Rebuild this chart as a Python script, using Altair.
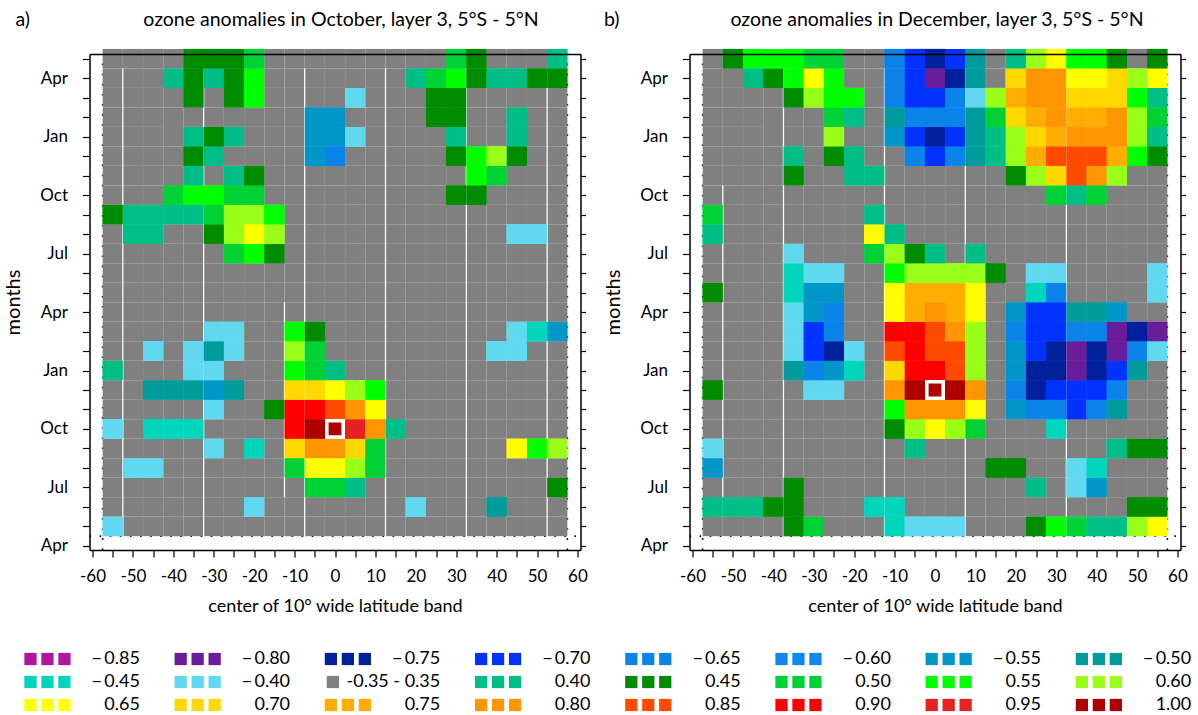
import altair as alt
import pandas as pd

FONT = "Lato"

# ---------------- data ----------------
LATS = [-55 + 5 * i for i in range(23)]          # centres of the latitude bands
# month index: 0 = April (year 0), 1 = May (year 0) ... 25 = May (year 2)
MONTH_NAMES = ["Apr", "Jul", "Oct", "Jan"]

LEVEL_KEYS = ["-0.85", "-0.80", "-0.75", "-0.70", "-0.65", "-0.60", "-0.55", "-0.50",
              "-0.45", "-0.40", "0.00", "0.40", "0.45", "0.50", "0.55", "0.60",
              "0.65", "0.70", "0.75", "0.80", "0.85", "0.90", "0.95", "1.00"]
LEVEL_COLORS = ["#B2169E", "#6A1C9A", "#00209C", "#0033FF", "#0A84E8", "#0E88EC", "#0096C8", "#009B9B",
                "#00D6BC", "#5FD8F0", "#808080", "#00BF86", "#008C00", "#00D235", "#00FF00", "#99FF18",
                "#FFFF00", "#FFD800", "#FFAD00", "#FF9500", "#FF4B00", "#FF0000", "#E52222", "#AE0000"]

# non-grey cells: month index -> [(latitude, correlation), ...]
OCT_CELLS = {
    25: [(-35, .45), (-30, .45), (-25, .45), (-20, .50), (30, .50), (35, .45), (55, .40)],
    24: [(-40, .40), (-35, .45), (-30, .40), (-25, .45), (-20, .55), (20, .40), (25, .50), (30, .55),
         (35, .45), (40, .40), (45, .40), (50, .45), (55, .45)],
    23: [(-35, .45), (-25, .45), (-20, .55), (5, -.40), (25, .45), (30, .45)],
    22: [(-5, -.55), (0, -.55), (25, .45), (30, .45), (45, .40)],
    21: [(-35, .40), (-30, .45), (-25, .40), (-5, -.55), (0, -.55), (5, -.40), (30, .40), (45, .40)],
    20: [(-35, .45), (-30, .40), (-5, -.55), (0, -.65), (30, .45), (35, .55), (40, .60), (45, .45)],
    19: [(-35, .40), (-25, .40), (-20, .45), (35, .55), (40, .50)],
    18: [(-40, .50), (-35, .55), (-30, .55), (-25, .50), (-20, .50), (30, .45), (35, .45)],
    17: [(-55, .45), (-50, .40), (-45, .40), (-40, .40), (-35, .40), (-30, .50), (-25, .60), (-20, .60), (-15, .55)],
    16: [(-50, .40), (-45, .40), (-30, .45), (-25, .60), (-20, .65), (-15, .60), (45, -.40), (50, -.40)],
    15: [(-25, .50), (-20, .55), (-15, .45)],
    11: [(-30, -.40), (-25, -.40), (-10, .55), (-5, .45), (45, -.40), (50, -.45), (55, -.55)],
    10: [(-45, -.40), (-35, -.40), (-30, -.50), (-25, -.40), (-10, .60), (-5, .50), (40, -.40), (45, -.40)],
    9: [(-55, .40), (-35, -.40), (-30, -.40), (-10, .55), (-5, .50), (0, .40)],
    8: [(-45, -.50), (-40, -.50), (-35, -.50), (-30, -.55), (-25, -.50), (-10, .70), (-5, .70), (0, .65),
        (5, .60), (10, .55)],
    7: [(-30, -.40), (-15, .45), (-10, .90), (-5, .90), (0, .85), (5, .80), (10, .65)],
    6: [(-55, -.40), (-45, -.45), (-40, -.45), (-35, -.45), (-10, .90), (-5, 1.0), (0, 1.0), (5, .95),
        (10, .80), (15, .40)],
    5: [(-30, -.40), (-20, -.45), (-10, .70), (-5, .80), (0, .80), (5, .70), (10, .50), (45, .65), (50, .55), (55, .60)],
    4: [(-50, -.40), (-45, -.40), (-10, .50), (-5, .65), (0, .65), (5, .60), (10, .50)],
    3: [(-5, .50), (0, .50), (5, .40), (55, .45)],
    2: [(-20, -.40), (20, -.40), (40, -.50)],
    1: [(-55, -.40)],
}

DEC_CELLS = {
    25: [(-50, .45), (-45, .55), (-40, .55), (-35, .55), (-30, .50), (-25, .50), (-10, -.65), (-5, -.70),
         (0, -.75), (5, -.70), (10, -.50), (20, .40), (25, .60), (30, .65), (35, .55), (40, .55), (45, .45), (55, .45)],
    24: [(-45, .40), (-40, .45), (-35, .55), (-30, .65), (-25, .55), (-10, -.65), (-5, -.70), (0, -.80),
         (5, -.75), (10, -.50), (20, .70), (25, .80), (30, .80), (35, .65), (40, .65), (45, .70), (50, .60), (55, .65)],
    23: [(-35, .45), (-30, .60), (-25, .55), (-20, .55), (-10, -.65), (-5, -.70), (0, -.70), (5, -.65),
         (10, -.40), (15, .60), (20, .75), (25, .80), (30, .80), (35, .70), (40, .70), (45, .70), (50, .55), (55, .40)],
    22: [(-25, .50), (-20, .40), (-10, -.50), (-5, -.65), (0, -.65), (5, -.65), (10, -.50), (15, .50),
         (20, .70), (25, .75), (30, .80), (35, .75), (40, .75), (45, .80), (50, .60), (55, .50)],
    21: [(-25, .60), (-10, -.55), (-5, -.70), (0, -.75), (5, -.70), (10, -.50), (15, .40), (20, .60),
         (25, .70), (30, .75), (35, .80), (40, .80), (45, .80), (50, .60), (55, .40)],
    20: [(-35, .40), (-25, .45), (-20, .40), (-5, -.65), (0, -.70), (5, -.65), (10, -.50), (15, .40),
         (20, .60), (25, .75), (30, .85), (35, .85), (40, .85), (45, .75), (50, .55), (55, .45)],
    19: [(-35, .45), (-20, .40), (-15, .40), (20, .45), (25, .60), (30, .70), (35, .85), (40, .80), (45, .60)],
    18: [(30, .50), (35, .40), (40, .50)],
    17: [(-55, .50), (-15, .40)],
    16: [(-55, .40), (-15, .65), (-10, .40)],
    15: [(-35, -.40), (-15, .50), (-10, .60), (-5, .45), (0, .40), (10, .40)],
    14: [(-35, -.45), (-30, -.40), (-25, -.40), (-10, .55), (-5, .60), (0, .60), (5, .60), (10, .60),
         (15, .45), (25, -.40), (30, -.40), (55, -.40)],
    13: [(-55, .45), (-35, -.45), (-30, -.55), (-25, -.55), (-10, .65), (-5, .75), (0, .75), (5, .75),
         (10, .65), (25, -.45), (30, -.65), (55, -.40)],
    12: [(-35, -.40), (-30, -.55), (-25, -.65), (-10, .65), (-5, .75), (0, .80), (5, .75), (10, .65),
         (20, -.55), (25, -.70), (30, -.70), (35, -.50), (40, -.50), (45, -.55)],
    11: [(-35, -.40), (-30, -.70), (-25, -.65), (-10, .90), (-5, .90), (0, .85), (5, .80), (10, .60),
         (20, -.65), (25, -.70), (30, -.70), (35, -.65), (40, -.65), (45, -.80), (50, -.75), (55, -.80)],
    10: [(-35, -.40), (-30, -.70), (-25, -.75), (-20, -.40), (-10, .85), (-5, .90), (0, .85), (5, .85),
         (10, .60), (20, -.55), (25, -.70), (30, -.75), (35, -.80), (40, -.75), (45, -.80), (50, -.65), (55, -.40)],
    9: [(-35, -.50), (-30, -.65), (-25, -.55), (-20, -.45), (-10, .70), (-5, .90), (0, .90), (5, .85),
        (10, .60), (20, -.55), (25, -.75), (30, -.75), (35, -.80), (40, -.75), (45, -.70), (50, -.50)],
    8: [(-55, .45), (-30, -.40), (-25, -.40), (-10, .80), (-5, 1.0), (0, 1.0), (5, 1.0), (10, .80),
        (20, -.65), (25, -.75), (30, -.70), (35, -.70), (40, -.70), (45, -.65)],
    7: [(-10, .55), (-5, .80), (0, .80), (5, .80), (10, .65), (20, -.55), (25, -.65), (30, -.65),
        (35, -.70), (40, -.65), (45, -.50)],
    6: [(-10, .45), (-5, .60), (0, .65), (5, .60), (10, .50), (30, -.45)],
    5: [(-55, -.40), (-5, .40), (45, .40), (50, .45), (55, .45)],
    4: [(-55, -.55), (15, .45), (20, .45), (35, -.40), (40, -.45)],
    3: [(-35, .45), (25, .40), (35, -.40), (40, -.55)],
    2: [(-55, .40), (-50, .40), (-45, .40), (-40, .45), (-35, .45), (-15, -.45), (-10, -.45), (50, .45), (55, .45)],
    1: [(-35, .45), (-30, .50), (-10, -.45), (-5, -.40), (0, -.40), (5, -.40), (25, .45), (30, .55),
        (35, .50), (40, .40), (45, .40), (50, .60), (55, .65)],
}

OCT_REF = (0, 6)    # reference cell: 0 deg, October
DEC_REF = (0, 8)    # reference cell: 0 deg, December

# rendering seams (white lines) seen in the original: (lat boundary, month from, month to)
OCT_SEAMS = [(-52.5, 0.5, 24.5), (-32.5, 0.5, 24.5), (-12.5, 2.5, 12.5), (-7.5, 0.5, 24.5),
             (12.5, 0.5, 24.5), (32.5, 0.5, 24.5), (52.5, 0.5, 24.5)]
DEC_SEAMS = [(-52.5, 1.5, 18.5), (-37.5, 0.5, 24.5), (-12.5, 0.5, 24.5), (7.5, 0.5, 24.5), (32.5, 0.5, 24.5)]

LEGEND_ROWS = [
    ["-0.85", "-0.80", "-0.75", "-0.70", "-0.65", "-0.60", "-0.55", "-0.50"],
    ["-0.45", "-0.40", "0.00", "0.40", "0.45", "0.50", "0.55", "0.60"],
    ["0.65", "0.70", "0.75", "0.80", "0.85", "0.90", "0.95", "1.00"],
]

X_DOM = [-60.75, 60.75]
Y_DOM = [-0.21, 25.24]
W, H = 491, 496


def key_of(v):
    return "%.2f" % v if abs(v) > 1e-9 else "0.00"


def cell_frame(cells):
    recs = []
    for m in range(1, 26):
        vals = dict(cells.get(m, []))
        for lat in LATS:
            v = vals.get(lat, 0.0)
            recs.append({"x0": lat - 2.5, "x1": lat + 2.5, "y0": m - 0.5, "y1": m + 0.5,
                         "key": key_of(v), "lat": lat, "month": m})
    return pd.DataFrame(recs)


color_scale = alt.Scale(domain=LEVEL_KEYS, range=LEVEL_COLORS)


def axis_common(**kw):
    base = dict(domainColor="black", domainWidth=1.5, tickColor="black", tickWidth=1.2,
                labelFont=FONT, labelFontSize=17, labelColor="black",
                titleFont=FONT, titleFontSize=18, titleFontWeight="normal", titleColor="black",
                grid=False, zindex=2)
    base.update(kw)
    return alt.Axis(**base)


def panel(cells, ref, seams, tag, title_text, tag_dx, title_dx):
    xs = alt.Scale(domain=X_DOM, nice=False, zero=False)
    ys = alt.Scale(domain=Y_DOM, nice=False, zero=False)
    df = cell_frame(cells)

    x_bottom = axis_common(
        values=list(range(-60, 61, 5)),
        labelExpr="datum.value % 10 == 0 ? (datum.value < 0 ? '-' + abs(datum.value) : '' + datum.value) : ''",
        labelFlush=False, labelOverlap=False, title="center of 10° wide latitude band",
        tickSize=7, labelPadding=11, titlePadding=9, minExtent=38, maxExtent=38)
    y_left = axis_common(
        values=list(range(0, 26)),
        labelExpr="datum.value % 3 == 0 ? ['Apr','Jul','Oct','Jan'][(datum.value / 3) % 4] : ''",
        labelOverlap=False, labelFlush=False, title="months", titleFontSize=20,
        tickSize=7, labelPadding=15, titlePadding=26, minExtent=40, maxExtent=40)
    y_right = axis_common(orient="right", values=list(range(0, 26)), labels=False, title=None,
                          tickSize=5, minExtent=5, maxExtent=5)
    x_top = axis_common(orient="top", labels=False, ticks=False, title=None, minExtent=0, maxExtent=0)

    dotted_df = pd.DataFrame([
        {"x": -57.5, "x2": -57.5, "y": Y_DOM[0], "y2": Y_DOM[1]},
        {"x": 57.5, "x2": 57.5, "y": Y_DOM[0], "y2": Y_DOM[1]},
        {"x": X_DOM[0], "x2": X_DOM[1], "y": 0.5, "y2": 0.5},
    ])
    dotted = alt.Chart(dotted_df).mark_rule(color="black", strokeWidth=1.6, strokeDash=[1.6, 8.5]).encode(
        x=alt.X("x:Q", scale=xs, axis=None), x2="x2:Q",
        y=alt.Y("y:Q", scale=ys, axis=None), y2="y2:Q")

    all_cells = alt.Chart(df).mark_rect(strokeWidth=0).encode(
        x=alt.X("x0:Q", scale=xs, axis=x_bottom), x2="x1:Q",
        y=alt.Y("y0:Q", scale=ys, axis=y_left), y2="y1:Q",
        color=alt.Color("key:N", scale=color_scale, legend=None))

    seam_df = pd.DataFrame([{"x": s[0], "y": s[1], "y2": s[2]} for s in seams])
    seam_layer = alt.Chart(seam_df).mark_rule(color="white", strokeWidth=1.3, opacity=0.95).encode(
        x=alt.X("x:Q", scale=xs, axis=None),
        y=alt.Y("y:Q", scale=ys, axis=None), y2="y2:Q")

    colored = alt.Chart(df).transform_filter("datum.key != '0.00'").mark_rect(strokeWidth=0).encode(
        x=alt.X("x0:Q", scale=xs, axis=None), x2="x1:Q",
        y=alt.Y("y0:Q", scale=ys, axis=None), y2="y1:Q",
        color=alt.Color("key:N", scale=color_scale, legend=None))

    ref_df = pd.DataFrame([{"lat": ref[0], "month": ref[1]}])
    ref_layer = alt.Chart(ref_df).mark_square(filled=False, stroke="white", strokeWidth=3.6,
                                              size=16.4 ** 2, opacity=1).encode(
        x=alt.X("lat:Q", scale=xs, axis=None),
        y=alt.Y("month:Q", scale=ys, axis=None))

    frame = alt.Chart(ref_df).mark_point(opacity=0).encode(
        x=alt.X("lat:Q", scale=xs, axis=x_top),
        y=alt.Y("month:Q", scale=ys, axis=y_right))

    text_df = pd.DataFrame([{"tag": tag, "title": title_text}])
    tag_layer = alt.Chart(text_df).mark_text(font=FONT, fontSize=19.5, align="left", baseline="middle",
                                              color="black").encode(
        x=alt.value(tag_dx), y=alt.value(-34), text="tag:N")
    title_layer = alt.Chart(text_df).mark_text(font=FONT, fontSize=19.5, align="center", baseline="middle",
                                                color="black").encode(
        x=alt.value(W / 2 + title_dx), y=alt.value(-34), text="title:N")

    return alt.layer(dotted, all_cells, seam_layer, colored, ref_layer, frame, tag_layer, title_layer).resolve_axis(
        x="independent", y="independent").properties(width=W, height=H)


pa = panel(OCT_CELLS, OCT_REF, OCT_SEAMS, "a)", "ozone anomalies in October, layer 3, 5°S - 5°N", -74, 6)
pb = panel(DEC_CELLS, DEC_REF, DEC_SEAMS, "b)", "ozone anomalies in December, layer 3, 5°S - 5°N", -85.5, 2)

# ---------------- custom legend ----------------
# the legend view is aligned with the left panel's plot area
LABEL_OF = {k: (("\u2212\u2009" + k[1:]) if k.startswith("-") else k) for k in LEVEL_KEYS}
LABEL_OF["0.00"] = "-0.35 -  0.35"
sq, tx = [], []
for r, row in enumerate(LEGEND_ROWS):
    for c, k in enumerate(row):
        n = 1 if k == "0.00" else 3
        for s in range(n):
            sq.append({"col": c + 0.013 * (k == "0.00") + s * 0.113, "row": r, "key": k})
        tx.append({"col": c + 0.728, "row": r, "label": LABEL_OF[k]})
sq_df, tx_df = pd.DataFrame(sq), pd.DataFrame(tx)

ORIGIN = 85.0          # offset of the legend view's left edge, in px
LW, LH = 1100, 52
COLW, ROWH = 150.2, 23
lx = alt.Scale(domain=[(ORIGIN - 26) / COLW, (ORIGIN - 26 + LW) / COLW], nice=False, zero=False)
ly = alt.Scale(domain=[-6 / ROWH, (LH - 6) / ROWH], nice=False, zero=False, reverse=True)
leg_sq = alt.Chart(sq_df).mark_square(size=150, opacity=1).encode(
    x=alt.X("col:Q", scale=lx, axis=None), y=alt.Y("row:Q", scale=ly, axis=None),
    color=alt.Color("key:N", scale=color_scale, legend=None))
leg_tx = alt.Chart(tx_df).mark_text(font=FONT, fontSize=18, align="right", baseline="middle", color="black").encode(
    x=alt.X("col:Q", scale=lx, axis=None), y=alt.Y("row:Q", scale=ly, axis=None), text="label:N")
legend = alt.layer(leg_sq, leg_tx).properties(width=LW, height=LH)

chart = alt.vconcat(
    alt.hconcat(pa, pb, spacing=16),
    legend,
    spacing=35,
).properties(padding={"left": 3.5, "top": 10, "right": 0, "bottom": 0}).configure_view(stroke=None)

chart.save("out.html", embed_options={"renderer": "svg", "actions": False})
